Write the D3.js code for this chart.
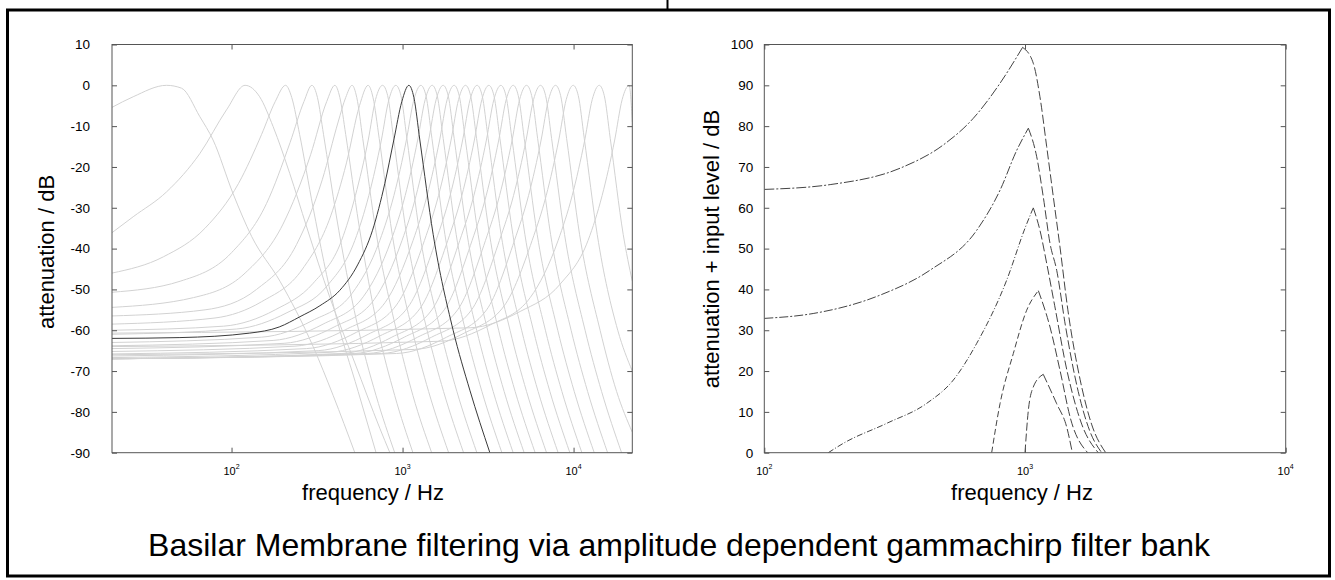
<!DOCTYPE html>
<html>
<head>
<meta charset="utf-8">
<script src="https://cdn.jsdelivr.net/npm/d3@7"></script>
<style>
  body { margin: 0; background: #fff; }
  svg text { font-family: "Liberation Sans", Arial, sans-serif; fill: #000; }
</style>
</head>
<body>
<svg id="chart" width="1335" height="580"></svg>
<script>
// ---- data ----
const leftYTicks = [10, 0, -10, -20, -30, -40, -50, -60, -70, -80, -90];
const rightYTicks = [100, 90, 80, 70, 60, 50, 40, 30, 20, 10, 0];
const leftDecades = [100, 1000, 10000];
const rightDecades = [100, 1000, 10000];

// gray filters of the bank: [Hz, dB]
const bankCurves = [
  [[20,-5.4],[26.6,-2.8],[41.7,0],[51,-0.7],[65.3,-7.7],[78,-13.4],[102,-26.5],[131,-37],[192,-48],[300,-64],[393,-76],[526,-90]],
  [[20,-36.1],[26.6,-32.2],[41.7,-26.1],[65.3,-16.7],[93.5,-6],[120,0],[146,-2.8],[175,-10.1],[219,-21.6],[275,-34.7],[376,-52],[526,-68],[736,-84],[843,-90]],
  [[20,-46],[40,-42],[70,-35],[110,-24],[150,-12],[180,-4],[207,0],[225,-3],[250,-12],[300,-30],[400,-55],[550,-75],[700,-90]],
  [[20,-50.7],[50,-48],[100,-41],[160,-29],[220,-14],[265,-4],[295,0],[318,-3],[345,-12],[410,-32],[540,-58],[700,-76],[900,-90]],
  [[20,-54.4],[60,-52],[120,-46],[200,-34],[290,-17],[360,-4],[402,0],[430,-3],[465,-12],[555,-34],[720,-60],[900,-76],[1150,-90]],
  [[20,-56.5],[70,-55],[140,-50],[240,-39],[340,-23],[420,-9],[465,-3],[507,0],[540,-3],[585,-13],[700,-36],[920,-60],[1150,-76],[1480,-90]],
  [[20,-58.5],[80,-57],[150,-53],[260,-45],[380,-32],[470,-19],[560,-5],[629,0],[672,-3],[730,-13],[870,-36.5],[1140,-60],[1420,-75],[1860,-90]],
  [[20,-60],[90,-59],[180,-55],[300,-48.5],[440,-38],[530,-27],[630,-13.4],[695,-3.5],[764,0],[818,-2.5],[886,-13],[1055,-36.5],[1391,-60],[1737,-75],[2274,-90]],
  [[20,-61],[107,-59.7],[211,-55.7],[361,-49.2],[526,-38],[635,-27],[752,-13.4],[832,-3.5],[914,0],[978,-2.5],[1060,-13],[1262,-36.5],[1664,-60],[2078,-75],[2720,-90]],
  [[20,-63],[150,-61.7],[295,-57.7],[506,-51],[736,-38],[890,-27],[1053,-13.4],[1165,-3.5],[1280,0],[1370,-2.5],[1485,-13],[1768,-36.5],[2331,-60],[2911,-75],[3809,-90]],
  [[20,-63.8],[175,-62.5],[343,-58.5],[589,-51.8],[857,-38],[1036,-27],[1226,-13.4],[1356,-3.5],[1490,0],[1594,-2.5],[1728,-13],[2058,-36.5],[2713,-60],[3388,-75],[4434,-90]],
  [[20,-64.5],[203,-63.2],[398,-59.2],[682,-52.5],[993,-38],[1200,-27],[1421,-13.4],[1572,-3.5],[1727,0],[1848,-2.5],[2003,-13],[2385,-36.5],[3145,-60],[3927,-75],[5140,-90]],
  [[20,-65.2],[235,-63.9],[462,-59.9],[791,-53.2],[1152,-38],[1392,-27],[1648,-13.4],[1823,-3.5],[2003,0],[2143,-2.5],[2323,-13],[2766,-36.5],[3647,-60],[4555,-75],[5961,-90]],
  [[20,-65.8],[274,-64.5],[538,-60.5],[922,-53.8],[1343,-38],[1623,-27],[1922,-13.4],[2125,-3.5],[2335,0],[2498,-2.5],[2709,-13],[3225,-36.5],[4252,-60],[5310,-75],[6949,-90]],
  [[20,-66.3],[321,-65],[629,-61],[1078,-54.3],[1569,-38],[1897,-27],[2246,-13.4],[2483,-3.5],[2729,0],[2920,-2.5],[3166,-13],[3769,-36.5],[4969,-60],[6206,-75],[8122,-90]],
  [[20,-66.7],[376,-65.4],[737,-61.4],[1263,-54.7],[1838,-38],[2222,-27],[2631,-13.4],[2909,-3.5],[3197,0],[3421,-2.5],[3709,-13],[4415,-36.5],[5822,-60],[7270,-75],[9514,-90]],
  [[20,-67],[442,-65.7],[866,-61.7],[1484,-55],[2161,-38],[2612,-27],[3093,-13.4],[3420,-3.5],[3758,0],[4021,-2.5],[4359,-13],[5190,-36.5],[6843,-60],[8546,-75],[11184,-90]],
  [[20,-67],[521,-65.7],[1023,-61.7],[1753,-55],[2551,-38],[3084,-27],[3652,-13.4],[4038,-3.5],[4437,0],[4748,-2.5],[5147,-13],[6127,-36.5],[8080,-60],[10090,-75],[13205,-90]],
  [[20,-67],[624,-65.7],[1225,-61.7],[2099,-55],[3055,-38],[3693,-27],[4373,-13.4],[4835,-3.5],[5313,0],[5685,-2.5],[6163,-13],[7337,-36.5],[9675,-60],[12082,-75],[15812,-90]],
  [[20,-67],[753,-65.7],[1478,-61.7],[2533,-55],[3687,-38],[4456,-27],[5277,-13.4],[5835,-3.5],[6412,0],[6861,-2.5],[7438,-13],[8855,-36.5],[11676,-60],[14581,-75],[19082,-90]],
  [[20,-67],[922,-65.7],[1809,-61.7],[3100,-55],[4513,-38],[5455,-27],[6460,-13.4],[7143,-3.5],[7849,0],[8398,-2.5],[9105,-13],[10840,-36.5],[14293,-60],[17849,-75],[22050,-85]],
  [[20,-66],[1170,-64.7],[2294,-60.7],[3932,-54],[5724,-38],[6918,-27],[8192,-13.4],[9058,-3.5],[9954,0],[10651,-2.5],[11547,-13],[13746,-36.5],[18126,-60],[22050,-70]],
  [[20,-64],[1660,-62.7],[3256,-58.7],[5579,-52],[8122,-38],[9817,-27],[11625,-13.4],[12854,-3.5],[14125,0],[15114,-2.5],[16385,-13],[19507,-36.5],[22050,-48]],
  [[20,-60.7],[2483,-59.4],[4872,-55.4],[8348,-48.7],[12153,-38],[14689,-27],[17394,-13.4],[19233,-3.5],[21135,0],[22050,-9]]
];

// highlighted filter (about 1.1 kHz)
const markedCurve = [[20,-62],[49.9,-61.8],[127.8,-60.7],[190,-59.2],[250.8,-56.7],[328.5,-54],[430,-50.2],[546,-44],[667.5,-35.5],[788,-24],[889,-13.4],[990,-4],[1089,0],[1165,-3],[1262,-13.4],[1510,-36.5],[1976,-60],[2475,-74.7],[3240,-90]];

// right panel: one curve per input level
const level100 = [[100,64.5],[180,65.7],[332,69.7],[486,75.4],[633,81.9],[802,90.5],[979,99.3],[1076,95.4],[1141,87.2],[1211,75],[1284,62.7],[1362,50.4],[1460,35],[1626,18],[1800,7],[2040,0]];
const level80 = [[100,32.9],[154,34.1],[278,38.6],[432,44.7],[653,54.5],[802,64.3],[930,74.1],[1030,79.5],[1109,72.5],[1175,62.7],[1247,51.3],[1323,44.7],[1430,31],[1600,15],[1780,5],[1969,0]];
const level60 = [[176,0],[201,2.3],[295,7.2],[420,12.1],[531,17.8],[653,26.8],[851,42.3],[1000,55],[1076,60],[1141,54.5],[1211,46.4],[1300,36],[1450,20],[1650,7],[1910,0]];
const level40 = [[745,0],[802,12],[902,24.3],[1015,34.9],[1125,39.7],[1247,30.8],[1362,20.2],[1500,8],[1740,0]];
const level20 = [[1000,0],[1030,10.4],[1076,16.1],[1175,19.2],[1323,12],[1445,6.3],[1519,0]];
const levelCurves = [level100, level80, level60, level40, level20];
// dash style of the rising side, the falling side uses long dashes
const levelDashes = ["10,2,2,2", "9,2,2,2", "6,2,1,2", "6,3", "8,3"];

const svg = d3.select("#chart");

// frame
svg.append("rect")
  .attr("x", 7.5).attr("y", 10).attr("width", 1322).attr("height", 566)
  .attr("fill", "none").attr("stroke", "#000").attr("stroke-width", 3);
svg.append("line")
  .attr("x1", 667.5).attr("x2", 667.5).attr("y1", 0).attr("y2", 10)
  .attr("stroke", "#000").attr("stroke-width", 2);

function drawPanel(p) {
  const g = svg.append("g");
  const [xl, xr] = p.x.range();
  const [yb, yt] = p.y.range();

  g.append("clipPath").attr("id", p.id)
    .append("rect").attr("x", xl).attr("y", yt).attr("width", xr - xl).attr("height", yb - yt);

  const line = d3.line()
    .x(d => p.x(d[0]))
    .y(d => p.y(d[1]))
    .curve(d3.curveMonotoneX);

  const plot = g.append("g").attr("clip-path", `url(#${p.id})`);
  p.draw(plot, line);

  // axes box
  const minor = p.x.ticks().filter(v => !p.decades.includes(v));
  const axisColor = "#555";

  const bottom = g.append("g").attr("transform", `translate(0,${yb})`);
  bottom.call(d3.axisBottom(p.x).tickValues(minor).tickSize(-3).tickFormat(""));
  bottom.call(d3.axisBottom(p.x).tickValues(p.decades).tickSize(-5).tickFormat(""));
  const top = g.append("g").attr("transform", `translate(0,${yt})`);
  top.call(d3.axisTop(p.x).tickValues(minor).tickSize(-3).tickFormat(""));
  top.call(d3.axisTop(p.x).tickValues(p.decades).tickSize(-5).tickFormat(""));
  const left = g.append("g").attr("transform", `translate(${xl},0)`);
  left.call(d3.axisLeft(p.y).tickValues(p.yTicks).tickSize(-5).tickFormat(""));
  const right = g.append("g").attr("transform", `translate(${xr},0)`);
  right.call(d3.axisRight(p.y).tickValues(p.yTicks).tickSize(-5).tickFormat(""));
  g.selectAll(".domain").remove();
  g.selectAll(".tick line").attr("stroke", axisColor);

  g.append("rect")
    .attr("x", xl).attr("y", yt).attr("width", xr - xl).attr("height", yb - yt)
    .attr("fill", "none").attr("stroke", axisColor).attr("stroke-width", 1);

  // y tick labels
  g.selectAll(".ylab").data(p.yTicks).enter().append("text")
    .attr("x", xl - p.yLabelGap).attr("y", d => p.y(d))
    .attr("dy", "0.36em").attr("text-anchor", "end")
    .style("font-size", "13.5px")
    .text(d => d);

  // x tick labels 10^n
  const xt = g.selectAll(".xlab").data(p.decades).enter().append("text")
    .attr("x", d => p.x(d)).attr("y", yb + 22)
    .attr("text-anchor", "middle")
    .style("font-size", "11px");
  xt.append("tspan").text("10");
  xt.append("tspan").attr("dy", -6).style("font-size", "7px")
    .text(d => Math.round(Math.log10(d)));

  // axis titles
  g.append("text")
    .attr("x", p.xTitleX).attr("y", 500)
    .attr("text-anchor", "middle").style("font-size", "22px")
    .text("frequency / Hz");
  g.append("text")
    .attr("transform", `translate(${p.yTitleX},${p.yTitleY}) rotate(-90)`)
    .attr("text-anchor", "middle").style("font-size", "22px")
    .text(p.yTitle);
}

drawPanel({
  id: "clipL",
  x: d3.scaleLog().domain([20, 22050]).range([112, 632.3]),
  y: d3.scaleLinear().domain([-90, 10]).range([452.7, 44.5]),
  decades: leftDecades,
  yTicks: leftYTicks,
  yLabelGap: 22,
  xTitleX: 373,
  yTitleX: 54, yTitleY: 252,
  yTitle: "attenuation / dB",
  draw: (plot, line) => {
    plot.selectAll(".bank").data(bankCurves).enter().append("path")
      .attr("d", line).attr("fill", "none")
      .attr("stroke", "#d2d2d2").attr("stroke-width", 1);
    plot.append("path").datum(markedCurve)
      .attr("d", line).attr("fill", "none")
      .attr("stroke", "#3a3a3a").attr("stroke-width", 1);
  }
});

drawPanel({
  id: "clipR",
  x: d3.scaleLog().domain([100, 10000]).range([764.3, 1285.7]),
  y: d3.scaleLinear().domain([0, 100]).range([452.7, 44.5]),
  decades: rightDecades,
  yTicks: rightYTicks,
  yLabelGap: 11,
  xTitleX: 1022,
  yTitleX: 719, yTitleY: 249,
  yTitle: "attenuation + input level / dB",
  draw: (plot, line) => {
    levelCurves.forEach((c, i) => {
      const top = d3.maxIndex(c, d => d[1]);
      plot.append("path").datum(c.slice(0, top + 1))
        .attr("d", line).attr("fill", "none")
        .attr("stroke", "#444").attr("stroke-width", 1)
        .attr("stroke-dasharray", levelDashes[i]);
      plot.append("path").datum(c.slice(top))
        .attr("d", line).attr("fill", "none")
        .attr("stroke", "#444").attr("stroke-width", 1)
        .attr("stroke-dasharray", "9,3");
    });
  }
});

// figure title
svg.append("text")
  .attr("x", 679).attr("y", 556)
  .attr("text-anchor", "middle").style("font-size", "32px")
  .text("Basilar Membrane filtering via amplitude dependent gammachirp filter bank");
</script>
</body>
</html>
